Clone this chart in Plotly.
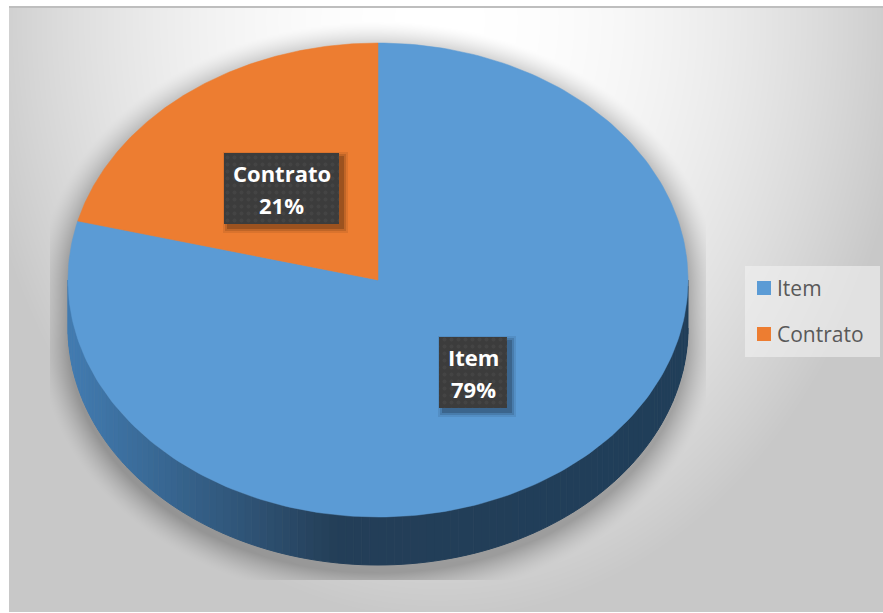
import numpy as np
import plotly.graph_objects as go

# Chart data
categories = ["Item", "Contrato"]
values = [79, 21]
colors = ["#5b9bd5", "#ed7d31"]

# Canvas and pie geometry, in pixels
W, H = 883, 613
CX, CY, RX, RY, DEPTH = 378, 280, 310, 237, 48
FRAME = (9, 7, 883, 612)
FONT = "Open Sans"


def rim(turn):
    """Point on the top ellipse for a fraction of a turn, clockwise from 12 o'clock."""
    a = 2 * np.pi * np.asarray(turn)
    return CX + RX * np.sin(a), CY - RY * np.cos(a)


def chart_area_shading():
    """Grey level per pixel: soft radial fill plus the pie's drop shadow."""
    px, py = np.meshgrid(np.arange(W) + 0.5, np.arange(H) + 0.5)
    drop = 55 * (((px - 440) / 470) ** 2 + ((py - 20) / 600) ** 2)
    grey = 255 - np.minimum(drop, 55)

    # distance outside the extruded pie outline, shifted slightly down
    shift = 8
    ny = py - np.clip(py, CY + shift, CY + DEPTH + shift)
    nx = px - CX
    r = np.hypot(nx / RX, ny / RY)
    grad = np.hypot(nx / RX**2, ny / RY**2) / np.maximum(r, 1e-6)
    dist = (r - 1) / np.maximum(grad, 1e-6)
    alpha = 0.26 * np.clip(1 - dist / 30, 0, 1) ** 1.5
    inside = (px > 50) & (px < 706) & (py < 580)
    grey = np.where(inside, grey * (1 - alpha), grey)

    # page margin around the chart area, and its top hairline
    x0, y0, x1, y1 = FRAME
    grey = np.where((px < x0) | (py < y0) | (py > y1), 255, grey)
    grey = np.where((py >= y0 - 1) & (py < y0 + 1) & (px >= x0), 190, grey)
    return np.round(grey).astype(np.uint8)


def wall_colour(x):
    stops_x = [68, 165, 250, 335, 688]
    stops = np.array([[66, 124, 178], [56, 103, 146], [47, 83, 117], [36, 63, 88], [32, 62, 90]])
    return "rgb(%d,%d,%d)" % tuple(np.interp(x, stops_x, stops[:, i]) for i in range(3))


fig = go.Figure()

fig.add_trace(go.Heatmap(
    x=np.arange(W) + 0.5, y=np.arange(H) + 0.5, z=chart_area_shading(),
    zmin=0, zmax=255, showscale=False, hoverinfo="skip",
    colorscale=[[0, "#000000"], [1, "#ffffff"]],
))

# Side wall of the pie: narrow strips along the lower half, shaded left to right
edges = np.linspace(0.25, 0.75, 121)
for a, b in zip(edges[:-1], edges[1:]):
    tx, ty = rim(np.linspace(a, b, 3))
    col = wall_colour(tx.mean())
    fig.add_trace(go.Scatter(
        x=np.r_[tx, tx[::-1]], y=np.r_[ty, ty[::-1] + DEPTH],
        mode="lines", fill="toself", fillcolor=col, line=dict(color=col, width=1),
        hoverinfo="skip", showlegend=False,
    ))

# Top face wedges, computed from the values
total = sum(values)
start = 0.0
for name, val, col in zip(categories, values, colors):
    share = val / total
    tx, ty = rim(np.linspace(start, start + share, 240))
    fig.add_trace(go.Scatter(
        x=np.r_[CX, tx, CX], y=np.r_[CY, ty, CY], mode="lines", fill="toself",
        fillcolor=col, line=dict(color=col, width=0.5), name=name,
        hoveron="fills", text=f"{name}: {val}%", hoverinfo="text", showlegend=False,
    ))
    start += share

# Data label boxes: (left, top, right, bottom)
label_boxes = {"Item": (439, 337, 507, 408), "Contrato": (224, 153, 339, 224)}


def box_path(x0, y0, x1, y1):
    return [x0, x1, x1, x0, x0], [y0, y0, y1, y1, y0]


annotations = []
for name, val in zip(categories, values):
    x0, y0, x1, y1 = label_boxes[name]
    for grow, a in ((5, 0.08), (3, 0.12), (1, 0.18)):
        sx, sy = box_path(x0 + 4 - grow, y0 + 4 - grow, x1 + 4 + grow, y1 + 4 + grow)
        fig.add_trace(go.Scatter(
            x=sx, y=sy, mode="lines", fill="toself", line=dict(width=0),
            fillcolor=f"rgba(0,0,0,{a})", hoverinfo="skip", showlegend=False,
        ))
    bx, by = box_path(x0, y0, x1, y1)
    fig.add_trace(go.Scatter(
        x=bx, y=by, mode="lines", fill="toself", line=dict(width=0),
        fillcolor="#3c3c3c", hoverinfo="skip", showlegend=False,
        fillpattern=dict(shape=".", bgcolor="#3c3c3c", fgcolor="#4c4c4c", size=7, solidity=0.25),
    ))
    xm = (x0 + x1) / 2
    for text, yy in ((name, y0 + 20), (f"{val}%", y0 + 52)):
        annotations.append(dict(
            x=xm, y=yy, text=f"<b>{text}</b>", showarrow=False, xanchor="center", yanchor="middle",
            font=dict(family=FONT, size=22, color="#ffffff"),
        ))

# Legend panel, swatches and names
px0, py0, px1, py1 = 745, 266, 880, 357
lx, ly = box_path(px0, py0, px1, py1)
fig.add_trace(go.Scatter(
    x=lx, y=ly, mode="lines", fill="toself", line=dict(width=0),
    fillcolor="rgba(242,242,242,0.6)", hoverinfo="skip", showlegend=False,
))
legend_rows = [288, 334]
fig.add_trace(go.Scatter(
    x=[764] * len(categories), y=legend_rows, mode="markers",
    marker=dict(symbol="square", size=14, color=colors, line=dict(width=0)),
    hoverinfo="skip", showlegend=False,
))
for name, yy in zip(categories, legend_rows):
    annotations.append(dict(
        x=775, y=yy, text=name, showarrow=False, xanchor="left", yanchor="middle",
        font=dict(family=FONT, size=21, color="#595959"),
    ))

fig.update_layout(
    width=W, height=H, margin=dict(l=0, r=0, t=0, b=0),
    paper_bgcolor="#ffffff", plot_bgcolor="#ffffff", showlegend=False,
    xaxis=dict(range=[0, W], visible=False, fixedrange=True),
    yaxis=dict(range=[H, 0], visible=False, fixedrange=True),
    annotations=annotations,
)

fig.write_html("out.html")
